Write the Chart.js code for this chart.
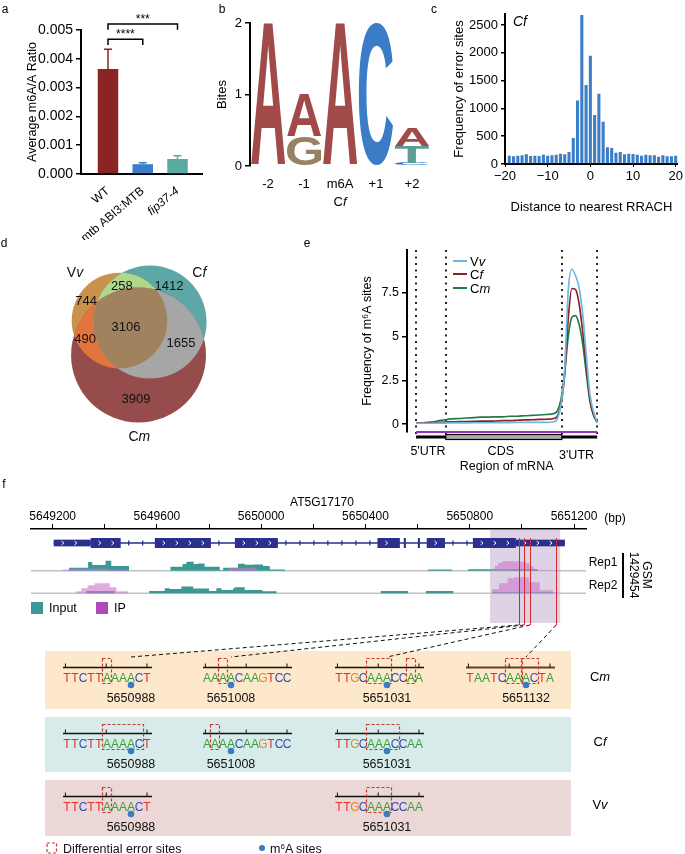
<!DOCTYPE html>
<html>
<head>
<meta charset="utf-8">
<script src="https://cdn.jsdelivr.net/npm/chart.js@4.4.1/dist/chart.umd.min.js"></script>
<style>
  body { margin: 0; background: #fff; font-family: 'Liberation Sans', Arial, sans-serif; color: #000; }
  #page { position: relative; width: 685px; height: 854px; overflow: hidden; }
  canvas { position: absolute; }
  .t { position: absolute; white-space: nowrap; line-height: 1; }
  #seqSvg { position: absolute; left: 0; top: 0; font-family: 'Liberation Sans', Arial, sans-serif; }
</style>
</head>
<body>
<div id="page">
  <canvas id="chartA" width="215" height="240" style="left:0;top:0"></canvas>
  <canvas id="chartB" width="215" height="215" style="left:215px;top:0"></canvas>
  <canvas id="chartC" width="255" height="215" style="left:430px;top:0"></canvas>
  <canvas id="chartD" width="250" height="220" style="left:0;top:240px"></canvas>
  <canvas id="chartE" width="385" height="240" style="left:300px;top:235px"></canvas>
  <canvas id="chartF" width="685" height="140" style="left:0;top:490px"></canvas>
  <svg id="seqSvg" width="685" height="854"></svg>
</div>
<script>
// ---------- data ----------
// a: average m6A/A ratio
const ratioLabels = ['WT', 'mtb ABI3:MTB', 'fip37-4'];
const ratioValues = [0.00365, 0.00034, 0.00052];
const ratioErrors = [0.00068, 0.00005, 0.00011];
const sigPairs = [[0, 1, '****'], [0, 2, '***']];
const sigLevels = [0.00468, 0.00521];

// b: motif logo (bits per base)
const logoPositions = ['-2', '-1', 'm6A', '+1', '+2'];
const logoC = [0, 0, 0, 2.0, 0.04];
const logoG = [0, 0.42, 0, 0, 0];
const logoT = [0, 0, 0, 0, 0.24];
const logoA = [2.0, 0.59, 2.0, 0, 0.25];

// c: distance of error sites to nearest RRACH
const distBins = [-19, -18, -17, -16, -15, -14, -13, -12, -11, -10, -9, -8, -7, -6, -5, -4, -3, -2, -1, 0,
  1, 2, 3, 4, 5, 6, 7, 8, 9, 10, 11, 12, 13, 14, 15, 16, 17, 18, 19, 20];
const distFreq = [150, 138, 150, 156, 174, 144, 150, 144, 168, 150, 156, 168, 186, 174, 216, 468, 1145, 2680, 1421, 1949,
  881, 1265, 761, 300, 288, 204, 216, 174, 186, 180, 168, 150, 168, 156, 156, 132, 156, 138, 138, 150];

// d: venn (regions: Vv, Cf, Cm, Vv&Cf, Vv&Cm, Cf&Cm, all)
const vennRegionSets = [[0], [1], [2], [0, 1], [0, 2], [1, 2], [0, 1, 2]];
const vennRegionCounts = [744, 1412, 3909, 258, 490, 1655, 3106];
const vennCx = [169.5, 212.8, 196.5];
const vennCy = [114.2, 116.3, 163.1];
const vennLabelX = [122, 239.7, 192.9, 173, 120.6, 256.7, 178.7];
const vennLabelY = [86.5, 65.2, 225.5, 65.2, 140.4, 146.1, 123.4];
const vennSetNames = [['V', 'v'], ['C', 'f'], ['C', 'm']];
const vennSetLabelX = [106.4, 282.7, 197.6];
const vennSetLabelY = [46.8, 47.2, 279];

// e: m6A sites along mRNA
const metaX = [0, 4, 8, 12, 16, 20, 24, 28, 32, 36, 40, 44, 48, 52, 56, 60, 64, 68, 72, 76, 78, 80, 82, 84, 86, 88, 90, 92, 94, 96, 98, 100];
const metaVv = [0.05, 0.05, 0.05, 0.06, 0.06, 0.07, 0.07, 0.07, 0.08, 0.08, 0.08, 0.08, 0.09, 0.09, 0.1, 0.1, 0.1, 0.1, 0.1, 0.12, 0.3, 1.1, 3.0, 7.6, 8.85, 8.5, 7.8, 6.3, 3.9, 1.7, 0.7, 0.1];
const metaCf = [0.05, 0.06, 0.08, 0.1, 0.12, 0.13, 0.14, 0.15, 0.16, 0.17, 0.17, 0.18, 0.2, 0.2, 0.22, 0.24, 0.25, 0.27, 0.28, 0.32, 0.45, 1.1, 2.8, 6.0, 7.75, 7.7, 6.9, 5.3, 3.3, 1.4, 0.55, 0.1];
const metaCm = [0.05, 0.08, 0.12, 0.18, 0.25, 0.3, 0.32, 0.35, 0.37, 0.4, 0.4, 0.42, 0.42, 0.45, 0.45, 0.48, 0.5, 0.52, 0.55, 0.6, 0.75, 1.4, 2.9, 5.0, 6.1, 6.2, 5.7, 4.6, 2.9, 1.3, 0.5, 0.1];
const mrnaBounds = [0, 16.4, 80.5, 100];
const mrnaLabels = ["5'UTR", 'CDS', "3'UTR"];

// f: AT5G17170 gene model and coverage
const trackMin = 5649117, trackMax = 5651246;
const exonStart = [5649204, 5649346, 5649592, 5649899, 5650446, 5650547, 5650601, 5650635, 5650812, 5650977];
const exonEnd   = [5649346, 5649461, 5649807, 5650064, 5650532, 5650555, 5650609, 5650705, 5650977, 5651165];
const exonUtr   = [1, 0, 0, 0, 0, 0, 0, 0, 0, 1];
const rep1Input = [[5649263, 3], [5649336, 8.7], [5649352, 5.7], [5649403, 10], [5649425, 4.7], [5649493, 0],
  [5649652, 4], [5649698, 6.7], [5649713, 9], [5649741, 6.7], [5649758, 7.3], [5649783, 4], [5649841, 0.5],
  [5649854, 3], [5649911, 7], [5649937, 6], [5649969, 6.3], [5650007, 4.7], [5650033, 1.3], [5650091, 0],
  [5650640, 1.3], [5650732, 0], [5650793, 1.5], [5651060, 0]];
const rep1IP = [[5649238, 1.2], [5649265, 2], [5649420, 1], [5649493, 0], [5649876, 3], [5649983, 0],
  [5650885, 2], [5650897, 5], [5650909, 8], [5650924, 9.5], [5650990, 9], [5651015, 7.5], [5651030, 4.5],
  [5651045, 1.5], [5651060, 0.7], [5651150, 0]];
const rep2Input = [[5649329, 2.3], [5649438, 0], [5649570, 2.3], [5649630, 5], [5649649, 4.3], [5649694, 6.7],
  [5649739, 4.7], [5649800, 2.3], [5649828, 5], [5649848, 3.3], [5649892, 5], [5649899, 6], [5649937, 3.3],
  [5650005, 2], [5650059, 0], [5650459, 2.3], [5650564, 0], [5650632, 2.3], [5650737, 0], [5650885, 1], [5651119, 0]];
const rep2IP = [[5649291, 2], [5649310, 5], [5649334, 8], [5649361, 10], [5649419, 6], [5649445, 2], [5649489, 0],
  [5650885, 4], [5650912, 10], [5650945, 15], [5650970, 16], [5651027, 11], [5651069, 3], [5651119, 1], [5651139, 0]];
const highlightWindow = [5650878, 5651147];
const errorSites = [5650988, 5651008, 5651031, 5651132];

// f: sequence windows around the error sites
const seqWindows = ['TTCTTAAAACT', 'AAAACAAGTCC', 'TTGCAAACCAA', 'TAATCAAACTA'];
const seqM6aIndex = [8, 3, 6, 7];
const speciesNames = [['C', 'm'], ['C', 'f'], ['V', 'v']];
const speciesWindows = [[0, 1, 2, 3], [0, 1, 2], [0, 2]];
const speciesDiffBoxes = [
  [[[5, 5]], [[2, 2]], [[4, 6], [9, 9]], [[5, 6], [7, 8]]],
  [[[5, 9]], [[1, 1]], [[4, 7]]],
  [[[5, 5]], [[4, 6]]]
];

// ---------- styles / layout ----------
const FONT = "'Liberation Sans', Arial, sans-serif";
Chart.defaults.font.family = FONT;
Chart.defaults.color = '#000';
const ratioColors = ['#8c2424', '#3a7dc8', '#5aaaa2'];
const logoColors = { A: '#a04a4a', C: '#3a7cc6', G: '#978262', T: '#5a9e96' };
const vennColors = ['#c9914c', '#5da7a6', '#964c4b', '#b0d78a', '#e2743d', '#a6a6a6', '#a0825f'];
const metaColors = ['#6bb8e4', '#8e1f1f', '#1f7a46'];
const baseColors = { A: '#3a9f3a', C: '#2f4fb8', G: '#e0892a', T: '#e2302a' };
const rep1Base = 54.3, rep2Base = 31.7, geneY = 82;
const windowX = [67, 207, 339, 470];
const rowTop = [651, 717, 780], rowH = [58, 55, 56];
const rowFill = ['#fde8cb', '#d7ebea', '#ead7d6'];
const common = { responsive: false, animation: false, devicePixelRatio: 1 };
const noPlug = { legend: { display: false }, tooltip: { enabled: false } };
const page = document.getElementById('page');

function addLabel(html, x, y, size, align, rotate) {
  const d = document.createElement('div');
  d.className = 't';
  d.innerHTML = html;
  d.style.left = x + 'px';
  d.style.top = y + 'px';
  d.style.fontSize = size + 'px';
  d.style.transform = 'translate(' + (align === 'left' ? '0' : '-50%') + ',-50%)' + (rotate ? ' rotate(' + rotate + 'deg)' : '');
  page.appendChild(d);
  return d;
}

// ---------- a ----------
const errorBarPlugin = {
  id: 'errorBars',
  afterDatasetsDraw(chart) {
    const { ctx, scales: { y } } = chart;
    const bars = chart.getDatasetMeta(0).data;
    ctx.save();
    ctx.lineWidth = 1.5;
    bars.forEach((bar, i) => {
      const top = y.getPixelForValue(ratioValues[i] + ratioErrors[i]);
      ctx.strokeStyle = ratioColors[i];
      ctx.beginPath();
      ctx.moveTo(bar.x, bar.y);
      ctx.lineTo(bar.x, top);
      ctx.moveTo(bar.x - 4, top);
      ctx.lineTo(bar.x + 4, top);
      ctx.stroke();
    });
    ctx.strokeStyle = '#000';
    ctx.fillStyle = '#000';
    ctx.textAlign = 'center';
    ctx.font = '12px ' + FONT;
    sigPairs.forEach(([a, b, txt], k) => {
      const yy = y.getPixelForValue(sigLevels[k]);
      const drop = y.getPixelForValue(sigLevels[k] - 0.0002);
      ctx.beginPath();
      ctx.moveTo(bars[a].x, drop);
      ctx.lineTo(bars[a].x, yy);
      ctx.lineTo(bars[b].x, yy);
      ctx.lineTo(bars[b].x, drop);
      ctx.stroke();
      ctx.fillText(txt, (bars[a].x + bars[b].x) / 2, yy - 1);
    });
    ctx.restore();
  }
};

new Chart(document.getElementById('chartA'), {
  type: 'bar',
  data: {
    datasets: [{
      data: ratioValues.map((v, i) => ({ x: i + 1, y: v })),
      backgroundColor: ratioColors,
      barPercentage: 0.59,
      categoryPercentage: 1
    }]
  },
  options: {
    ...common,
    layout: { padding: { left: 25, top: 30, right: 13, bottom: 0 } },
    plugins: noPlug,
    scales: {
      x: {
        type: 'linear', min: 0.223, max: 3.705, offset: false,
        afterBuildTicks: s => { s.ticks = ratioLabels.map((l, i) => ({ value: i + 1 })); },
        afterFit: s => { s.height = 66; },
        grid: { display: false, offset: false },
        border: { display: true, color: '#000', width: 2 },
        ticks: {
          autoSkip: false, minRotation: 40, maxRotation: 40, padding: 2, color: '#000',
          font: ctx => ({ size: 12, style: ctx.index === 2 ? 'italic' : 'normal' }),
          callback: v => ratioLabels[v - 1]
        }
      },
      y: {
        min: 0, max: 0.005,
        afterFit: s => { s.width = 56; },
        ticks: { stepSize: 0.001, callback: v => v.toFixed(3), color: '#000', font: { size: 14 } },
        grid: { display: true, drawOnChartArea: false, tickLength: 5, color: '#000', lineWidth: 1.5 },
        border: { color: '#000', width: 2 },
        title: { display: true, text: 'Average m6A/A Ratio', color: '#000', font: { size: 12.5 }, padding: { top: 0, bottom: 0 } }
      }
    }
  },
  plugins: [errorBarPlugin]
});

// ---------- b ----------
const logoPlugin = {
  id: 'logoLetters',
  afterDatasetsDraw(chart) {
    const ctx = chart.ctx;
    ctx.save();
    ctx.font = 'bold 200px ' + FONT;
    ctx.textAlign = 'left';
    ctx.textBaseline = 'alphabetic';
    chart.data.datasets.forEach((ds, di) => {
      const letter = ds.label;
      const m = ctx.measureText(letter);
      const gw = m.actualBoundingBoxLeft + m.actualBoundingBoxRight;
      const gh = m.actualBoundingBoxAscent + m.actualBoundingBoxDescent;
      chart.getDatasetMeta(di).data.forEach((bar, j) => {
        if (!ds.data[j]) return;
        const p = bar.getProps(['x', 'y', 'base', 'width'], true);
        const h = Math.abs(p.base - p.y);
        if (h < 0.5) return;
        ctx.save();
        ctx.translate(p.x - p.width / 2, Math.min(p.y, p.base));
        ctx.scale(p.width / gw, h / gh);
        ctx.fillStyle = logoColors[letter];
        ctx.fillText(letter, m.actualBoundingBoxLeft, m.actualBoundingBoxAscent);
        ctx.restore();
      });
    });
    ctx.restore();
  }
};

new Chart(document.getElementById('chartB'), {
  type: 'bar',
  data: {
    labels: logoPositions,
    datasets: [
      { label: 'C', data: logoC },
      { label: 'G', data: logoG },
      { label: 'T', data: logoT },
      { label: 'A', data: logoA }
    ].map(d => ({ ...d, backgroundColor: 'rgba(0,0,0,0)', borderWidth: 0, barPercentage: 0.95, categoryPercentage: 1 }))
  },
  options: {
    ...common,
    layout: { padding: { left: 0, top: 23, right: 0, bottom: 0 } },
    plugins: noPlug,
    scales: {
      x: {
        stacked: true,
        afterFit: s => { s.height = 49; },
        grid: { display: false },
        border: { display: false },
        ticks: { color: '#000', font: { size: 13 }, padding: 3 }
      },
      y: {
        stacked: true, min: 0, max: 2,
        afterFit: s => { s.width = 35; },
        ticks: { stepSize: 1, color: '#000', font: { size: 13 } },
        grid: { display: true, drawOnChartArea: false, tickLength: 5, color: '#000', lineWidth: 1.5 },
        border: { color: '#000', width: 2 },
        title: { display: true, text: 'Bites', color: '#000', font: { size: 13 }, padding: { top: 0, bottom: 0 } }
      }
    }
  },
  plugins: [logoPlugin]
});

// ---------- c ----------
new Chart(document.getElementById('chartC'), {
  type: 'bar',
  data: {
    datasets: [{
      data: distBins.map((b, i) => ({ x: b, y: distFreq[i] })),
      backgroundColor: '#3b7ec6',
      barPercentage: 0.72,
      categoryPercentage: 1
    }]
  },
  options: {
    ...common,
    layout: { padding: { left: 22, top: 14, right: 6, bottom: 0 } },
    plugins: noPlug,
    scales: {
      x: {
        type: 'linear', min: -20, max: 20.5, offset: false,
        afterBuildTicks: s => { s.ticks = [-20, -10, 0, 10, 20].map(v => ({ value: v })); },
        afterFit: s => { s.height = 51; },
        ticks: { callback: v => (v < 0 ? '\u2212' + (-v) : String(v)), color: '#000', font: { size: 13 }, maxRotation: 0, padding: 2 },
        grid: { display: true, drawOnChartArea: false, tickLength: 3, color: '#000', offset: false },
        border: { color: '#000', width: 2 },
        title: { display: true, text: 'Distance to nearest RRACH', color: '#000', font: { size: 13 }, padding: { top: 3, bottom: 0 } }
      },
      y: {
        min: 0, max: 2700,
        afterBuildTicks: s => { s.ticks = [0, 500, 1000, 1500, 2000, 2500].map(v => ({ value: v })); },
        afterFit: s => { s.width = 53; },
        ticks: { color: '#000', font: { size: 13 }, callback: v => String(v) },
        grid: { display: true, drawOnChartArea: false, tickLength: 4, color: '#000', lineWidth: 1.5 },
        border: { color: '#000', width: 2 },
        title: { display: true, text: 'Frequency of error sites', color: '#000', font: { size: 13 }, padding: { top: 0, bottom: 0 } }
      }
    }
  }
});

// ---------- d ----------
const setTotals = [0, 1, 2].map(s => vennRegionSets.reduce((sum, r, i) => sum + (r.includes(s) ? vennRegionCounts[i] : 0), 0));
const vennPlugin = {
  id: 'venn',
  afterDatasetsDraw(chart) {
    const { ctx, scales: { x, y } } = chart;
    const circ = vennCx.map((cx, i) => ({
      x: x.getPixelForValue(cx),
      y: y.getPixelForValue(vennCy[i]),
      r: x.getPixelForValue(cx + Math.sqrt(setTotals[i])) - x.getPixelForValue(cx)
    }));
    vennRegionSets.forEach((sets, ri) => {
      ctx.save();
      sets.forEach(s => {
        ctx.beginPath();
        ctx.arc(circ[s].x, circ[s].y, circ[s].r, 0, Math.PI * 2);
        ctx.clip();
      });
      ctx.fillStyle = vennColors[ri];
      ctx.fillRect(0, 0, chart.width, chart.height);
      ctx.restore();
    });
    ctx.save();
    ctx.fillStyle = '#111';
    ctx.textAlign = 'center';
    ctx.textBaseline = 'middle';
    ctx.font = '13px ' + FONT;
    vennRegionCounts.forEach((c, i) => {
      ctx.fillText(String(c), x.getPixelForValue(vennLabelX[i]), y.getPixelForValue(vennLabelY[i]));
    });
    vennSetNames.forEach(([a, b], i) => {
      ctx.font = '14px ' + FONT;
      const wa = ctx.measureText(a).width;
      ctx.font = 'italic 14px ' + FONT;
      const wb = ctx.measureText(b).width;
      const left = x.getPixelForValue(vennSetLabelX[i]) - (wa + wb) / 2;
      const yy = y.getPixelForValue(vennSetLabelY[i]);
      ctx.textAlign = 'left';
      ctx.font = '14px ' + FONT;
      ctx.fillText(a, left, yy);
      ctx.font = 'italic 14px ' + FONT;
      ctx.fillText(b, left + wa, yy);
    });
    ctx.restore();
  }
};

new Chart(document.getElementById('chartD'), {
  type: 'scatter',
  data: { datasets: [{ data: vennCx.map((cx, i) => ({ x: cx, y: vennCy[i] })), pointRadius: 0 }] },
  options: {
    ...common,
    layout: { padding: 0 },
    plugins: noPlug,
    scales: {
      x: { min: 0, max: 354.6, display: false },
      y: { min: 0, max: 312.1, reverse: true, display: false }
    }
  },
  plugins: [vennPlugin]
});

// ---------- e ----------
const mrnaPlugin = {
  id: 'mrna',
  beforeDatasetsDraw(chart) {
    const { ctx, chartArea: a, scales: { x } } = chart;
    ctx.save();
    ctx.strokeStyle = '#222';
    ctx.lineWidth = 2;
    ctx.setLineDash([2, 4.5]);
    mrnaBounds.forEach(b => {
      const px = Math.round(x.getPixelForValue(b));
      ctx.beginPath();
      ctx.moveTo(px, a.top);
      ctx.lineTo(px, a.bottom + 5);
      ctx.stroke();
    });
    ctx.restore();
  },
  afterDraw(chart) {
    const { ctx, chartArea: a, scales: { x } } = chart;
    const x0 = x.getPixelForValue(mrnaBounds[0]);
    const x3 = x.getPixelForValue(mrnaBounds[3]);
    ctx.save();
    ctx.strokeStyle = '#9b2fc0';
    ctx.lineWidth = 2;
    ctx.beginPath();
    ctx.moveTo(x0, a.bottom);
    ctx.lineTo(x3, a.bottom);
    ctx.stroke();
    const by = a.bottom + 5;
    ctx.strokeStyle = '#000';
    ctx.lineWidth = 3;
    ctx.beginPath();
    ctx.moveTo(x0, by);
    ctx.lineTo(x3, by);
    ctx.stroke();
    const c1 = x.getPixelForValue(mrnaBounds[1]), c2 = x.getPixelForValue(mrnaBounds[2]);
    ctx.fillStyle = '#a9a9a9';
    ctx.lineWidth = 1.2;
    ctx.fillRect(c1, by - 2.5, c2 - c1, 5);
    ctx.strokeRect(c1, by - 2.5, c2 - c1, 5);
    ctx.fillStyle = '#000';
    ctx.textAlign = 'center';
    ctx.textBaseline = 'middle';
    ctx.font = '12.5px ' + FONT;
    const labelDy = [20, 20, 24];
    mrnaLabels.forEach((l, i) => {
      const mid = (mrnaBounds[i] + mrnaBounds[i + 1]) / 2;
      ctx.fillText(l, x.getPixelForValue(mid) - 3, a.bottom + labelDy[i]);
    });
    ctx.fillText('Region of mRNA', x.getPixelForValue(50), a.bottom + 35);
    ctx.restore();
  }
};

new Chart(document.getElementById('chartE'), {
  type: 'line',
  data: {
    datasets: [
      { label: 'Vv', data: metaX.map((v, i) => ({ x: v, y: metaVv[i] })), borderColor: metaColors[0] },
      { label: 'Cf', data: metaX.map((v, i) => ({ x: v, y: metaCf[i] })), borderColor: metaColors[1] },
      { label: 'Cm', data: metaX.map((v, i) => ({ x: v, y: metaCm[i] })), borderColor: metaColors[2] }
    ].map(d => ({ ...d, borderWidth: 1.7, pointRadius: 0, cubicInterpolationMode: 'monotone', fill: false }))
  },
  options: {
    ...common,
    layout: { padding: { left: 60, top: 15, right: 86, bottom: 43 } },
    plugins: noPlug,
    scales: {
      x: { type: 'linear', min: -5, max: 101, display: false },
      y: {
        min: -0.45, max: 9.95,
        afterBuildTicks: s => { s.ticks = [0, 2.5, 5, 7.5].map(v => ({ value: v })); },
        afterFit: s => { s.width = 47; },
        ticks: { color: '#000', font: { size: 12.5 }, callback: v => String(v) },
        grid: { display: true, drawOnChartArea: false, tickLength: 5, color: '#000', lineWidth: 1.5 },
        border: { color: '#000', width: 2 },
        title: { display: true, text: 'Frequency of m\u2076A sites', color: '#000', font: { size: 12.5 }, padding: { top: 0, bottom: 0 } }
      }
    }
  },
  plugins: [mrnaPlugin]
});

// ---------- f (tracks) ----------
function stepData(pairs, base) {
  const pts = [{ x: trackMin, y: base }];
  pairs.forEach(([bp, h]) => pts.push({ x: bp, y: base + h }));
  pts.push({ x: trackMax, y: base });
  return pts;
}

const trackPlugin = {
  id: 'tracks',
  beforeDatasetsDraw(chart) {
    const { ctx, chartArea: a, scales: { x, y } } = chart;
    ctx.save();
    const h0 = x.getPixelForValue(highlightWindow[0]), h1 = x.getPixelForValue(highlightWindow[1]);
    ctx.fillStyle = 'rgba(206,192,216,0.7)';
    ctx.fillRect(h0, a.top + 1, h1 - h0, a.bottom - a.top - 3);
    ctx.strokeStyle = '#c2c2c8';
    ctx.lineWidth = 1.5;
    [rep1Base, rep2Base].forEach(b => {
      const yy = y.getPixelForValue(b);
      ctx.beginPath();
      ctx.moveTo(a.left, yy);
      ctx.lineTo(a.right, yy);
      ctx.stroke();
    });
    ctx.restore();
  },
  afterDatasetsDraw(chart) {
    const { ctx, chartArea: a, scales: { x, y } } = chart;
    const gy = y.getPixelForValue(geneY);
    const navy = '#2b2f8e';
    ctx.save();
    ctx.strokeStyle = navy;
    ctx.fillStyle = navy;
    ctx.lineWidth = 1.3;
    ctx.beginPath();
    ctx.moveTo(x.getPixelForValue(exonStart[0]), gy);
    ctx.lineTo(x.getPixelForValue(exonEnd[exonEnd.length - 1]), gy);
    ctx.stroke();
    // intron direction marks
    for (let i = 0; i < exonStart.length - 1; i++) {
      const i0 = x.getPixelForValue(exonEnd[i]), i1 = x.getPixelForValue(exonStart[i + 1]);
      for (let px = i0 + 8; px < i1 - 4; px += 14) {
        ctx.beginPath();
        ctx.moveTo(px, gy - 2.5);
        ctx.lineTo(px, gy + 2.5);
        ctx.stroke();
      }
    }
    exonStart.forEach((s, i) => {
      const x0 = x.getPixelForValue(s), x1 = x.getPixelForValue(exonEnd[i]);
      const h = exonUtr[i] ? 6.7 : 10;
      ctx.fillStyle = navy;
      ctx.fillRect(x0, gy - h / 2, x1 - x0, h);
      ctx.strokeStyle = '#fff';
      ctx.lineWidth = 1;
      for (let px = x0 + 9; px < x1 - 4; px += 13) {
        ctx.beginPath();
        ctx.moveTo(px - 1.2, gy - 2);
        ctx.lineTo(px + 1.2, gy);
        ctx.lineTo(px - 1.2, gy + 2);
        ctx.stroke();
      }
    });
    ctx.strokeStyle = '#d42a2a';
    ctx.lineWidth = 1;
    errorSites.forEach(bp => {
      const px = Math.round(x.getPixelForValue(bp)) + 0.5;
      ctx.beginPath();
      ctx.moveTo(px, gy - 5);
      ctx.lineTo(px, a.bottom);
      ctx.stroke();
    });
    ctx.restore();
  }
};

const trackDatasets = [
  { data: stepData(rep1Input, rep1Base), fill: { value: rep1Base }, backgroundColor: '#3a9a93' },
  { data: stepData(rep1IP, rep1Base), fill: { value: rep1Base }, backgroundColor: 'rgba(205,120,205,0.62)' },
  { data: stepData(rep2Input, rep2Base), fill: { value: rep2Base }, backgroundColor: '#3a9a93' },
  { data: stepData(rep2IP, rep2Base), fill: { value: rep2Base }, backgroundColor: 'rgba(205,120,205,0.62)' }
].map(d => ({ ...d, stepped: true, pointRadius: 0, borderWidth: 0, borderColor: 'rgba(0,0,0,0)' }));
trackDatasets.reverse();

const chartF = new Chart(document.getElementById('chartF'), {
  type: 'line',
  data: { datasets: trackDatasets },
  options: {
    ...common,
    layout: { padding: { left: 31, right: 99, top: 0, bottom: 5 } },
    plugins: { ...noPlug, filler: { propagate: false } },
    scales: {
      x: {
        type: 'linear', position: 'top', min: trackMin, max: trackMax,
        afterBuildTicks: s => {
          const t = [];
          for (let v = 5649200; v <= 5651200; v += 200) t.push({ value: v });
          s.ticks = t;
        },
        afterFit: s => { s.height = 39; },
        ticks: { autoSkip: false, maxRotation: 0, color: '#000', font: { size: 12 }, padding: 0,
          callback: v => ((v - 5649200) % 400 === 0 ? String(v) : '') },
        grid: { display: true, drawOnChartArea: false, tickLength: 5, color: '#000', lineWidth: 1 },
        border: { color: '#000', width: 1.5 }
      },
      y: { min: 0, max: 96, display: false }
    }
  },
  plugins: [trackPlugin]
});

// ---------- text labels ----------
addLabel('a', 5, 9, 12);
addLabel('b', 222, 9, 12);
addLabel('c', 434, 9, 12);
addLabel('d', 4, 243, 12);
addLabel('e', 307, 243, 12);
addLabel('f', 4, 484, 12);
addLabel('C<i>f</i>', 340, 201, 13);
addLabel('<i>Cf</i>', 520, 21, 14);
// e legend
const legY = [261, 273.5, 288];
[['V', 'v'], ['C', 'f'], ['C', 'm']].forEach(([a, b], i) => {
  const ln = document.createElement('div');
  ln.style.cssText = 'position:absolute;left:453px;width:14px;height:0;border-top:2px solid ' + metaColors[i] + ';top:' + (legY[i] - 1) + 'px';
  page.appendChild(ln);
  addLabel(a + '<i>' + b + '</i>', 470, legY[i], 13, 'left');
});
addLabel('AT5G17170', 322, 502, 12);
addLabel('(bp)', 615, 518, 12);
addLabel('Rep1', 603, 562, 12);
addLabel('Rep2', 603, 585, 12);
const gsm = addLabel('GSM<br>1429454', 640, 575, 12, 'center', 90);
gsm.style.textAlign = 'center';
gsm.style.lineHeight = '13px';
const vbar = document.createElement('div');
vbar.style.cssText = 'position:absolute;left:622px;top:553px;width:1.5px;height:45px;background:#000';
page.appendChild(vbar);
[['#3a9a93', 31, 'Input', 49], ['#b04ab8', 96, 'IP', 114]].forEach(([c, x, txt, tx]) => {
  const sq = document.createElement('div');
  sq.style.cssText = 'position:absolute;left:' + x + 'px;top:602px;width:12px;height:12px;background:' + c;
  page.appendChild(sq);
  addLabel(txt, tx, 608, 12.5, 'left');
});
speciesNames.forEach(([a, b], r) => {
  addLabel(a + '<i>' + b + '</i>', 600, rowTop[r] + rowH[r] / 2 - 4, 13);
});

// ---------- f (sequence windows) ----------
const svg = document.getElementById('seqSvg');
const NS = 'http://www.w3.org/2000/svg';
function svgEl(tag, attrs, text) {
  const e = document.createElementNS(NS, tag);
  for (const k in attrs) e.setAttribute(k, attrs[k]);
  if (text != null) e.textContent = text;
  svg.appendChild(e);
  return e;
}
const LS = 8;
speciesWindows.forEach((wins, r) => {
  const top = rowTop[r];
  svgEl('rect', { x: 45, y: top, width: 526, height: rowH[r], fill: rowFill[r] });
  wins.forEach((w, k) => {
    const gx = windowX[w];
    const ry = top + 16.5;
    const rulerColor = (r === 0 && w === 3) ? '#6b3b2b' : '#111';
    svgEl('line', { x1: gx - 4, y1: ry, x2: gx + 10 * LS + 5, y2: ry, stroke: rulerColor, 'stroke-width': r === 0 && w === 3 ? 2 : 1.3 });
    [-0.2, 4.9, 10].forEach(t => {
      svgEl('line', { x1: gx + t * LS, y1: ry - 4, x2: gx + t * LS, y2: ry, stroke: '#111', 'stroke-width': 1 });
    });
    seqWindows[w].split('').forEach((ch, j) => {
      svgEl('text', { x: gx + j * LS, y: top + 30.5, 'text-anchor': 'middle', 'font-size': 12,
        'font-family': "'Liberation Sans Narrow', 'Liberation Sans', sans-serif", fill: baseColors[ch] }, ch);
    });
    speciesDiffBoxes[r][k].forEach(([a, b]) => {
      svgEl('rect', { x: gx + a * LS - 4.5, y: top + 7.5, width: (b - a) * LS + 9, height: 25,
        fill: 'none', stroke: '#c0392b', 'stroke-width': 1.2, 'stroke-dasharray': '3,2' });
    });
    const mx = gx + seqM6aIndex[w] * LS;
    svgEl('circle', { cx: mx, cy: top + 34, r: 3.3, fill: '#3a7cc4' });
    svgEl('text', { x: mx, y: top + 51, 'text-anchor': 'middle', 'font-size': 12.5, fill: '#111' }, String(errorSites[w]));
  });
});
// connectors from the highlighted sites to the sequence windows
const fx = chartF.scales.x;
const fBottom = 490 + chartF.chartArea.bottom;
errorSites.forEach((bp, w) => {
  const sx = fx.getPixelForValue(bp);
  const tx = windowX[w] + seqM6aIndex[w] * LS;
  svgEl('line', { x1: sx, y1: fBottom, x2: tx, y2: rowTop[0] + 6, stroke: '#111', 'stroke-width': 1, 'stroke-dasharray': '4,3' });
});
// bottom legend
svgEl('rect', { x: 47, y: 843, width: 9.5, height: 10, fill: 'none', stroke: '#c0392b', 'stroke-width': 1.2, 'stroke-dasharray': '3,2' });
svgEl('text', { x: 63, y: 852.5, 'font-size': 12.5, fill: '#111' }, 'Differential error sites');
svgEl('circle', { cx: 262, cy: 848, r: 3, fill: '#3a7cc4' });
const legTxt = svgEl('text', { x: 270, y: 852.5, 'font-size': 12.5, fill: '#111' }, 'm');
const sup = document.createElementNS(NS, 'tspan');
sup.setAttribute('dy', '-4');
sup.setAttribute('font-size', '8');
sup.textContent = '6';
legTxt.appendChild(sup);
const rest = document.createElementNS(NS, 'tspan');
rest.setAttribute('dy', '4');
rest.textContent = 'A sites';
legTxt.appendChild(rest);
</script>
</body>
</html>
